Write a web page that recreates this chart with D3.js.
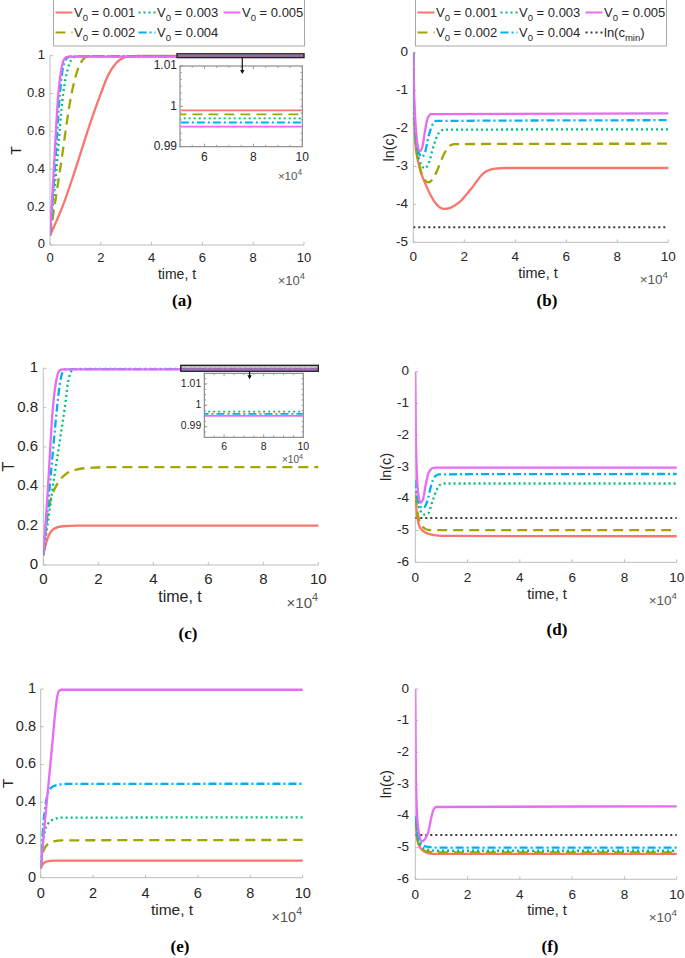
<!DOCTYPE html>
<html><head><meta charset="utf-8">
<script src="https://cdn.jsdelivr.net/npm/d3@7"></script>
<style>
body{margin:0;background:#fff}
text{font-family:"Liberation Sans",Arial,Helvetica,sans-serif;fill:#262626}
</style></head>
<body><svg id="c" width="685" height="958"></svg>
<script>
// ---------- data (t in units of 10^4) ----------
const seriesNames = ["0.001","0.002","0.003","0.004","0.005"];
const colors = ["#F8766D","#A3A500","#00BF7D","#00B0F6","#E76BF3"];
const dashes = [null,"10,6","2,3","8,3,2,3",null];
const lnCmin = -4.605;
const T_TICKS = [0,0.2,0.4,0.6,0.8,1];
const X_TICKS = [0,2,4,6,8,10];
const LNC5_TICKS = [-5,-4,-3,-2,-1,0];
const LNC6_TICKS = [-6,-5,-4,-3,-2,-1,0];
const INSET_X_TICKS = [6,8,10];
const INSET_Y_TICKS = [0.99,1,1.01];

// panel (a) T
const aT1 = [[0,0.05],[0.25,0.125],[0.5,0.205],[1,0.4],[1.5,0.61],[2,0.8],[2.3,0.9],[2.6,0.96],[2.9,0.99],[3.2,0.998],[3.5,0.999],[10,0.999]];
const aT2 = [[0,0.05],[0.4,0.4],[0.85,0.8],[1.1,0.93],[1.3,0.98],[1.5,0.996],[1.7,0.998],[10,0.998]];
const aT3 = [[0,0.05],[0.25,0.4],[0.52,0.8],[0.7,0.93],[0.85,0.98],[1.0,0.995],[1.15,0.997],[10,0.997]];
const aT4 = [[0,0.05],[0.2,0.42],[0.39,0.8],[0.5,0.93],[0.62,0.98],[0.75,0.994],[0.85,0.996],[10,0.996]];
const aT5 = [[0,0.05],[0.15,0.4],[0.33,0.8],[0.45,0.93],[0.55,0.98],[0.65,0.993],[0.75,0.995],[10,0.995]];
// panel (b) ln(c)
const bC1 = [[0,0],[0.02,-1.5],[0.08,-2.4],[0.2,-2.9],[0.5,-3.5],[0.8,-3.9],[1.0,-4.06],[1.2,-4.12],[1.45,-4.09],[1.8,-3.95],[2.3,-3.56],[2.75,-3.18],[3.2,-3.06],[3.6,-3.04],[10,-3.04]];
const bC2 = [[0,0],[0.03,-1.6],[0.1,-2.4],[0.25,-3.0],[0.4,-3.3],[0.6,-3.42],[0.8,-3.3],[1.0,-3.0],[1.2,-2.68],[1.4,-2.47],[1.6,-2.41],[10,-2.4]];
const bC3 = [[0,0],[0.03,-1.5],[0.1,-2.3],[0.25,-2.85],[0.45,-3.05],[0.6,-2.92],[0.8,-2.45],[1.0,-2.12],[1.2,-2.03],[10,-2.02]];
const bC4 = [[0,0],[0.03,-1.4],[0.1,-2.2],[0.2,-2.6],[0.33,-2.75],[0.45,-2.65],[0.6,-2.2],[0.75,-1.9],[0.9,-1.8],[10,-1.78]];
const bC5 = [[0,0],[0.03,-1.0],[0.08,-1.8],[0.15,-2.35],[0.25,-2.6],[0.35,-2.5],[0.45,-2.1],[0.55,-1.75],[0.7,-1.62],[10,-1.6]];
// panel (c) T
const cT1 = [[0,0.05],[0.1,0.11],[0.2,0.15],[0.4,0.185],[0.7,0.197],[1.2,0.2],[10,0.2]];
const cT2 = [[0,0.05],[0.1,0.2],[0.25,0.32],[0.5,0.41],[0.8,0.46],[1.2,0.485],[1.8,0.495],[2.5,0.498],[10,0.498]];
const cT3 = [[0,0.05],[0.2,0.25],[0.4,0.45],[0.6,0.63],[0.8,0.82],[0.9,0.93],[1.0,0.98],[1.1,0.995],[1.2,0.997],[10,0.997]];
const cT4 = [[0,0.05],[0.15,0.27],[0.3,0.5],[0.5,0.8],[0.6,0.92],[0.7,0.98],[0.8,0.994],[0.9,0.996],[10,0.996]];
const cT5 = [[0,0.05],[0.15,0.35],[0.35,0.8],[0.45,0.92],[0.55,0.98],[0.65,0.993],[0.75,0.995],[10,0.995]];
// panel (d) ln(c)
const dC1 = [[0,-3.8],[0.05,-4.4],[0.15,-4.85],[0.3,-5.02],[0.5,-5.1],[0.8,-5.15],[1.2,-5.17],[10,-5.18]];
const dC2 = [[0,-3.9],[0.1,-4.5],[0.2,-4.8],[0.35,-4.93],[0.5,-4.98],[0.8,-4.99],[10,-4.99]];
const dC3 = [[0,-3.6],[0.15,-4.3],[0.35,-4.5],[0.5,-4.45],[0.65,-4.1],[0.8,-3.75],[0.95,-3.56],[1.1,-3.52],[10,-3.52]];
const dC4 = [[0,-3.4],[0.1,-4.0],[0.2,-4.25],[0.3,-4.3],[0.45,-4.1],[0.6,-3.6],[0.75,-3.3],[0.9,-3.23],[10,-3.22]];
const dC5 = [[0,0],[0.02,-2],[0.06,-3.2],[0.12,-3.9],[0.2,-4.12],[0.3,-4.0],[0.4,-3.55],[0.5,-3.2],[0.65,-3.04],[0.8,-3.02],[10,-3.02]];
// panel (e) T
const eT1 = [[0,0.05],[0.1,0.075],[0.25,0.087],[0.5,0.09],[10,0.09]];
const eT2 = [[0,0.05],[0.1,0.14],[0.25,0.175],[0.5,0.193],[0.8,0.198],[10,0.2]];
const eT3 = [[0,0.05],[0.1,0.2],[0.25,0.28],[0.5,0.31],[0.8,0.318],[10,0.32]];
const eT4 = [[0,0.05],[0.1,0.28],[0.2,0.4],[0.35,0.47],[0.6,0.49],[1.0,0.497],[10,0.498]];
const eT5 = [[0,0.05],[0.15,0.28],[0.3,0.5],[0.45,0.72],[0.55,0.87],[0.62,0.95],[0.7,0.99],[0.8,0.996],[10,0.996]];
// panel (f) ln(c)
const fC1 = [[0,-4.0],[0.05,-4.6],[0.15,-4.95],[0.3,-5.1],[0.5,-5.18],[0.8,-5.2],[10,-5.2]];
const fC2 = [[0,-4.1],[0.1,-4.8],[0.25,-5.05],[0.5,-5.13],[0.8,-5.15],[10,-5.15]];
const fC3 = [[0,-4.1],[0.1,-4.7],[0.25,-4.98],[0.5,-5.07],[0.8,-5.1],[10,-5.1]];
const fC4 = [[0,-4.0],[0.1,-4.6],[0.25,-4.9],[0.5,-4.98],[0.8,-5.0],[10,-5.0]];
const fC5 = [[0,0],[0.02,-2.5],[0.07,-4.0],[0.15,-4.6],[0.25,-4.8],[0.35,-4.75],[0.5,-4.5],[0.6,-4.1],[0.7,-3.8],[0.8,-3.72],[10,-3.7]];

// ---------- layout ----------
const svg = d3.select("#c");
const panels = [
 {k:"a",x:[50,304],y:[245,55.7],yd:[0,1],yt:T_TICKS,lab:"T",fs:13,data:[aT1,aT2,aT3,aT4,aT5],cmin:false,
  ytx:45,ylx:17,xty:259,tl:[177,275],ex:[305,281],pl:[182,302],
  inset:{x:[180,302.3],y:[146.7,66],yd:[0.99,1.01],fs:12,ex:[302,180],arrow:7.57}},
 {k:"b",x:[413.3,668.3],y:[242.3,52.7],yd:[-5,0],yt:LNC5_TICKS,lab:"ln(c)",fs:13.5,data:[bC1,bC2,bC3,bC4,bC5],cmin:true,
  ytx:408,ylx:390,xty:257,tl:[538,274],ex:[668,280],pl:[547,302]},
 {k:"c",x:[43.3,318.3],y:[565,368.3],yd:[0,1],yt:T_TICKS,lab:"T",fs:15,data:[cT1,cT2,cT3,cT4,cT5],cmin:false,
  ytx:38,ylx:10,xty:580,tl:[180,598],ex:[318,604],pl:[188,635],
  inset:{x:[204.3,303.3],y:[437.3,373.3],yd:[0.985,1.015],fs:10.5,ex:[303,463],arrow:7.5}},
 {k:"d",x:[415.3,676.7],y:[562.3,371.7],yd:[-6,0],yt:LNC6_TICKS,lab:"ln(c)",fs:13.5,data:[dC1,dC2,dC3,dC4,dC5],cmin:true,
  ytx:409,ylx:387,xty:578,tl:[547,595],ex:[677,601],pl:[557,631]},
 {k:"e",x:[40.7,302.7],y:[877.7,689],yd:[0,1],yt:T_TICKS,lab:"T",fs:14.5,data:[eT1,eT2,eT3,eT4,eT5],cmin:false,
  ytx:36,ylx:9,xty:894,tl:[172,911],ex:[302,918],pl:[180,948]},
 {k:"f",x:[415.3,676.7],y:[879.3,689],yd:[-6,0],yt:LNC6_TICKS,lab:"ln(c)",fs:13.5,data:[fC1,fC2,fC3,fC4,fC5],cmin:true,
  ytx:409,ylx:387,xty:895,tl:[547,911],ex:[677,918],pl:[550,948]}
];

const AX = "#bdbdbd";
function expLabel(g, x, y, fs){
  const t = g.append("text").attr("x",x).attr("y",y).attr("text-anchor","end")
    .style("font-size",fs+"px").style("fill","#555");
  t.append("tspan").text("\u00d710");
  t.append("tspan").attr("dy",-fs*0.45).style("font-size",(fs*0.72)+"px").text("4");
}

panels.forEach((p,pi)=>{
  const g = svg.append("g");
  const xs = d3.scaleLinear().domain([0,10]).range(p.x);
  const ys = d3.scaleLinear().domain(p.yd).range(p.y);
  g.append("line").attr("x1",p.x[0]).attr("x2",p.x[1]).attr("y1",p.y[0]).attr("y2",p.y[0]).attr("stroke",AX);
  g.append("line").attr("x1",p.x[0]).attr("x2",p.x[0]).attr("y1",p.y[0]).attr("y2",p.y[1]).attr("stroke",AX);
  X_TICKS.forEach(v=>{
    g.append("line").attr("x1",xs(v)).attr("x2",xs(v)).attr("y1",p.y[0]).attr("y2",p.y[0]-3).attr("stroke",AX);
    g.append("text").attr("x",xs(v)).attr("y",p.xty).attr("text-anchor","middle").attr("dominant-baseline","middle")
      .style("font-size",p.fs+"px").text(v);
  });
  p.yt.forEach(v=>{
    g.append("line").attr("x1",p.x[0]).attr("x2",p.x[0]+3).attr("y1",ys(v)).attr("y2",ys(v)).attr("stroke",AX);
    g.append("text").attr("x",p.ytx).attr("y",ys(v)).attr("text-anchor","end").attr("dominant-baseline","middle")
      .style("font-size",p.fs+"px").text(String(v).replace("\u2212","-"));
  });
  g.append("text").attr("transform",`translate(${p.ylx},${(p.y[0]+p.y[1])/2}) rotate(-90)`)
    .attr("text-anchor","middle").attr("dominant-baseline","middle").style("font-size",(p.fs+1)+"px").text(p.lab);
  g.append("text").attr("x",p.tl[0]).attr("y",p.tl[1]).attr("text-anchor","middle").attr("dominant-baseline","middle")
    .style("font-size",(p.fs+1)+"px").text("time, t");
  expLabel(g,p.ex[0],p.ex[1]+4,p.fs);
  g.append("text").attr("x",p.pl[0]).attr("y",p.pl[1]).attr("text-anchor","middle").attr("dominant-baseline","middle")
    .style("font-family","'Liberation Serif','Times New Roman',serif").style("font-weight","bold").style("font-size","17px").style("fill","#000")
    .text("("+p.k+")");

  const cid = "clip"+p.k;
  svg.append("clipPath").attr("id",cid).append("rect").attr("x",p.x[0]).attr("y",p.y[1]-3).attr("width",p.x[1]-p.x[0]+2).attr("height",p.y[0]-p.y[1]+3);
  const lg = g.append("g").attr("clip-path",`url(#${cid})`);
  const line = d3.line().x(d=>xs(d[0])).y(d=>ys(d[1])).curve(d3.curveMonotoneX);
  if(p.cmin){
    lg.append("path").attr("d",line([[0,lnCmin],[10,lnCmin]])).attr("fill","none").attr("stroke","#3a3a3a")
      .attr("stroke-width",2).attr("stroke-dasharray","2,3");
  }
  p.data.forEach((s,i)=>{
    lg.append("path").attr("d",line(s)).attr("fill","none").attr("stroke",colors[i]).attr("stroke-width",2.3)
      .attr("stroke-dasharray",dashes[i]);
  });

  if(p.inset){
    const q = p.inset;
    const rx0 = xs(5), rx1 = xs(10), ry0 = ys(q.yd[1]), ry1 = ys(q.yd[0]);
    g.append("rect").attr("x",rx0).attr("y",ry0).attr("width",rx1-rx0).attr("height",ry1-ry0)
      .attr("fill","rgba(90,90,90,0.35)").attr("stroke","#222").attr("stroke-width",1.4);
    const ix = d3.scaleLinear().domain([5,10]).range(q.x);
    const iy = d3.scaleLinear().domain(q.yd).range(q.y);
    const ig = g.append("g");
    ig.append("rect").attr("x",q.x[0]).attr("y",q.y[1]).attr("width",q.x[1]-q.x[0]).attr("height",q.y[0]-q.y[1])
      .attr("fill","#fff").attr("stroke","#777").attr("stroke-width",1);
    const ax = xs(q.arrow);
    const off = p.k==="a"?4:2;
    g.append("line").attr("x1",ax).attr("x2",ax).attr("y1",ry1).attr("y2",q.y[1]+off+1).attr("stroke","#111").attr("stroke-width",1.2);
    g.append("path").attr("d",`M${ax-2.2},${q.y[1]+off} L${ax+2.2},${q.y[1]+off} L${ax},${q.y[1]+off+4} Z`).attr("fill","#111");
    d3.range(5,10.01,0.5).forEach(v=>{
      ig.append("line").attr("x1",ix(v)).attr("x2",ix(v)).attr("y1",q.y[0]).attr("y2",q.y[0]-(v%2===0?3:1.8)).attr("stroke","#999");
      ig.append("line").attr("x1",ix(v)).attr("x2",ix(v)).attr("y1",q.y[1]).attr("y2",q.y[1]+(v%2===0?3:1.8)).attr("stroke","#999");
    });
    INSET_X_TICKS.forEach(v=>{
      ig.append("text").attr("x",ix(v)).attr("y",q.y[0]+q.fs*0.95).attr("text-anchor","middle").attr("dominant-baseline","middle")
        .style("font-size",q.fs+"px").text(v);
    });
    d3.range(0,13).forEach(j=>{
      const v = q.yd[0] + (q.yd[1]-q.yd[0])*j/12;
      ig.append("line").attr("x1",q.x[0]).attr("x2",q.x[0]+1.8).attr("y1",iy(v)).attr("y2",iy(v)).attr("stroke","#999");
      ig.append("line").attr("x1",q.x[1]).attr("x2",q.x[1]-1.8).attr("y1",iy(v)).attr("y2",iy(v)).attr("stroke","#999");
    });
    INSET_Y_TICKS.forEach(v=>{
      ig.append("line").attr("x1",q.x[0]).attr("x2",q.x[0]+3).attr("y1",iy(v)).attr("y2",iy(v)).attr("stroke","#999");
      ig.append("text").attr("x",q.x[0]-3).attr("y",iy(v)).attr("text-anchor","end").attr("dominant-baseline","middle")
        .style("font-size",q.fs+"px").text(v);
    });
    expLabel(ig,q.ex[0],q.ex[1],q.fs-0.5);
    const icid = "iclip"+p.k;
    svg.append("clipPath").attr("id",icid).append("rect").attr("x",q.x[0]+0.5).attr("y",q.y[1]+0.5).attr("width",q.x[1]-q.x[0]-1).attr("height",q.y[0]-q.y[1]-1);
    const il = d3.line().x(d=>ix(d[0])).y(d=>iy(d[1]));
    const ilg = ig.append("g").attr("clip-path",`url(#${icid})`);
    p.data.forEach((s,i)=>{
      ilg.append("path").attr("d",il(s)).attr("fill","none").attr("stroke",colors[i]).attr("stroke-width",1.8)
        .attr("stroke-dasharray",dashes[i]);
    });
  }
});

// ---------- legends ----------
function legend(x0, withCmin){
  const g = svg.append("g");
  g.append("rect").attr("x",x0).attr("y",-0.5).attr("width",251).attr("height",46.5).attr("fill","#fff").attr("stroke","#a8a8a8");
  const cols = [x0+2, x0+85, x0+170];
  const rows = [12.5, 32.5];
  const items = seriesNames.map((n,i)=>({name:n,color:colors[i],dash:dashes[i],type:"v"}));
  if(withCmin) items.push({name:"cmin",color:"#3a3a3a",dash:"2,3",type:"c"});
  items.forEach((it,i)=>{
    const cx = cols[Math.floor(i/2)], cy = rows[i%2];
    g.append("line").attr("x1",cx).attr("x2",cx+17).attr("y1",cy).attr("y2",cy).attr("stroke",it.color)
      .attr("stroke-width",2).attr("stroke-dasharray",it.dash);
    const t = g.append("text").attr("x",cx+18.5).attr("y",cy+4.5).style("font-size","13px");
    if(it.type==="v"){
      t.append("tspan").text("V");
      t.append("tspan").attr("dy",4).style("font-size","9.5px").text("0");
      t.append("tspan").attr("dy",-4).text(" = "+it.name);
    } else {
      t.append("tspan").text("ln(c");
      t.append("tspan").attr("dy",4).style("font-size","9.5px").text("min");
      t.append("tspan").attr("dy",-4).text(")");
    }
  });
}
legend(53.5,false);
legend(415.5,true);
</script></body></html>
